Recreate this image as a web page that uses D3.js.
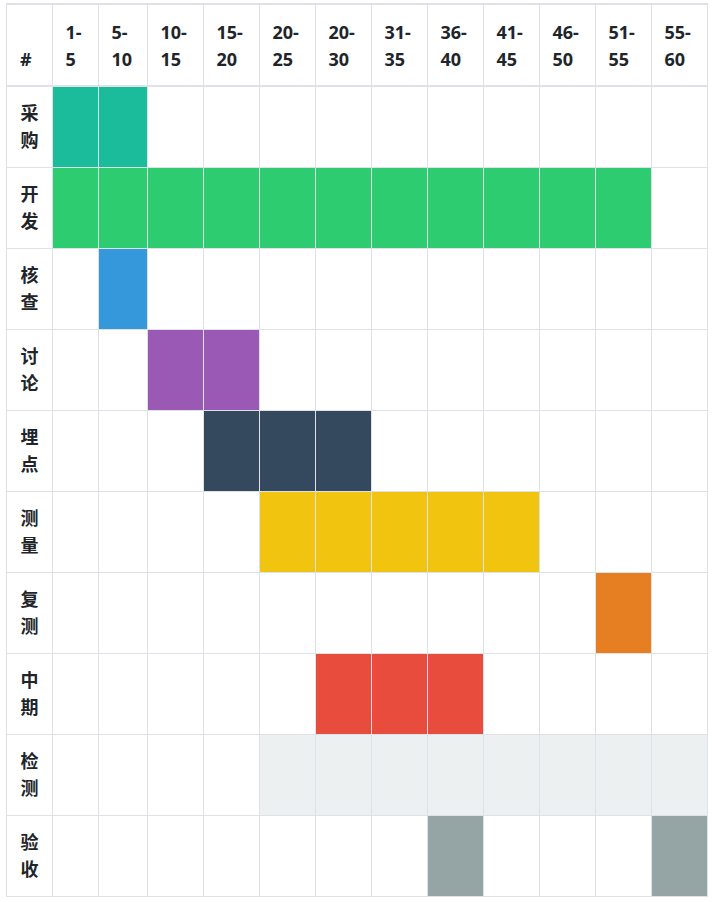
<!DOCTYPE html>
<html>
<head>
<meta charset="utf-8">
<script src="https://cdn.jsdelivr.net/npm/d3@7"></script>
<style>
  body { margin: 0; background: #fff; }
  svg { display: block; }
</style>
</head>
<body>
<svg id="chart"></svg>
<script>
// 时间段（列）
const periods = ["1-5", "5-10", "10-15", "15-20", "20-25", "20-30", "31-35", "36-40", "41-45", "46-50", "51-55", "55-60"];
// 任务（行）
const tasks = ["采购", "开发", "核查", "讨论", "埋点", "测量", "复测", "中期", "检测", "验收"];
// 每个任务占用的时间段
const taskPeriods = [
  ["1-5", "5-10"],
  ["1-5", "5-10", "10-15", "15-20", "20-25", "20-30", "31-35", "36-40", "41-45", "46-50", "51-55"],
  ["5-10"],
  ["10-15", "15-20"],
  ["15-20", "20-25", "20-30"],
  ["20-25", "20-30", "31-35", "36-40", "41-45"],
  ["51-55"],
  ["20-30", "31-35", "36-40"],
  ["20-25", "20-30", "31-35", "36-40", "41-45", "46-50", "51-55", "55-60"],
  ["36-40", "55-60"]
];
const taskColors = ["#1abc9c", "#2ecc71", "#3498db", "#9b59b6", "#34495e", "#f1c40f", "#e67e22", "#e74c3c", "#ecf0f1", "#95a5a6"];

const W = 712, H = 902;
const svg = d3.select("#chart").attr("width", W).attr("height", H);

// 列宽（表格自动布局的结果）
const left = 6;
const firstColW = 46;
const colWidths = [46, 49, 56, 56, 56, 56, 56, 56, 56, 56, 56, 56];
const edges = [left + firstColW];
colWidths.forEach(w => edges.push(edges[edges.length - 1] + w));

const x = d3.scaleOrdinal().domain(periods).range(edges.slice(0, -1));
const xw = d3.scaleOrdinal().domain(periods).range(colWidths);
const right = edges[edges.length - 1];

const headTop = 3, headBottom = 85;
const y = d3.scaleBand().domain(tasks).range([86, 86 + 81 * tasks.length]).padding(0);
const bottom = 86 + 81 * tasks.length;

const font = "'Noto Sans', 'Noto Sans CJK SC', sans-serif";
const textColor = "#212529";
const border = "#dee2e6";

// 彩色单元格
const cells = [];
tasks.forEach((t, i) => {
  taskPeriods[i].forEach(p => cells.push({ task: t, period: p, color: taskColors[i] }));
});

svg.append("g").selectAll("rect")
  .data(cells)
  .join("rect")
  .attr("x", d => x(d.period))
  .attr("y", d => y(d.task))
  .attr("width", d => xw(d.period))
  .attr("height", y.bandwidth())
  .attr("fill", d => d.color);

// 网格线
const grid = svg.append("g").attr("stroke", border).attr("stroke-width", 1).attr("shape-rendering", "crispEdges");
// 横线
grid.selectAll("line.h")
  .data(tasks.slice(1))
  .join("line")
  .attr("class", "h")
  .attr("x1", left).attr("x2", right + 1)
  .attr("y1", d => y(d) + 0.5).attr("y2", d => y(d) + 0.5);
grid.append("line")
  .attr("x1", left).attr("x2", right + 1)
  .attr("y1", bottom + 0.5).attr("y2", bottom + 0.5);
// 竖线
const vLines = [left, left + firstColW].concat(periods.map(p => x(p) + xw(p)));
grid.selectAll("line.v")
  .data(vLines)
  .join("line")
  .attr("class", "v")
  .attr("x1", d => d + 0.5).attr("x2", d => d + 0.5)
  .attr("y1", headTop).attr("y2", bottom + 1);
// 表头上下粗线
svg.append("rect").attr("x", left).attr("y", headTop).attr("width", right - left + 1).attr("height", 2).attr("fill", border);
svg.append("rect").attr("x", left).attr("y", headBottom).attr("width", right - left + 1).attr("height", 2).attr("fill", border);

// 表头文字
const head = svg.append("g")
  .attr("font-family", font)
  .attr("font-size", 18)
  .attr("font-weight", "bold")
  .attr("fill", textColor);

head.append("text")
  .attr("x", left + 14)
  .attr("y", 66)
  .text("#");

const headText = head.selectAll("text.p")
  .data(periods)
  .join("text")
  .attr("class", "p")
  .attr("x", d => x(d) + 13.5)
  .attr("y", 39);
headText.append("tspan").text(d => d.split("-")[0] + "-");
headText.append("tspan")
  .attr("x", d => x(d) + 13.5)
  .attr("dy", 27)
  .text(d => d.split("-")[1]);

// 行标签（每行两个字，竖排）
const rowText = svg.append("g")
  .attr("font-family", "'Noto Sans CJK SC', sans-serif")
  .attr("font-size", 18)
  .attr("font-weight", "bold")
  .attr("fill", textColor)
  .selectAll("text")
  .data(tasks)
  .join("text")
  .attr("x", left + 14.5)
  .attr("y", d => y(d) + 33.5);
rowText.append("tspan").text(d => d[0]);
rowText.append("tspan")
  .attr("x", left + 14.5)
  .attr("dy", 27)
  .text(d => d[1]);
</script>
</body>
</html>
